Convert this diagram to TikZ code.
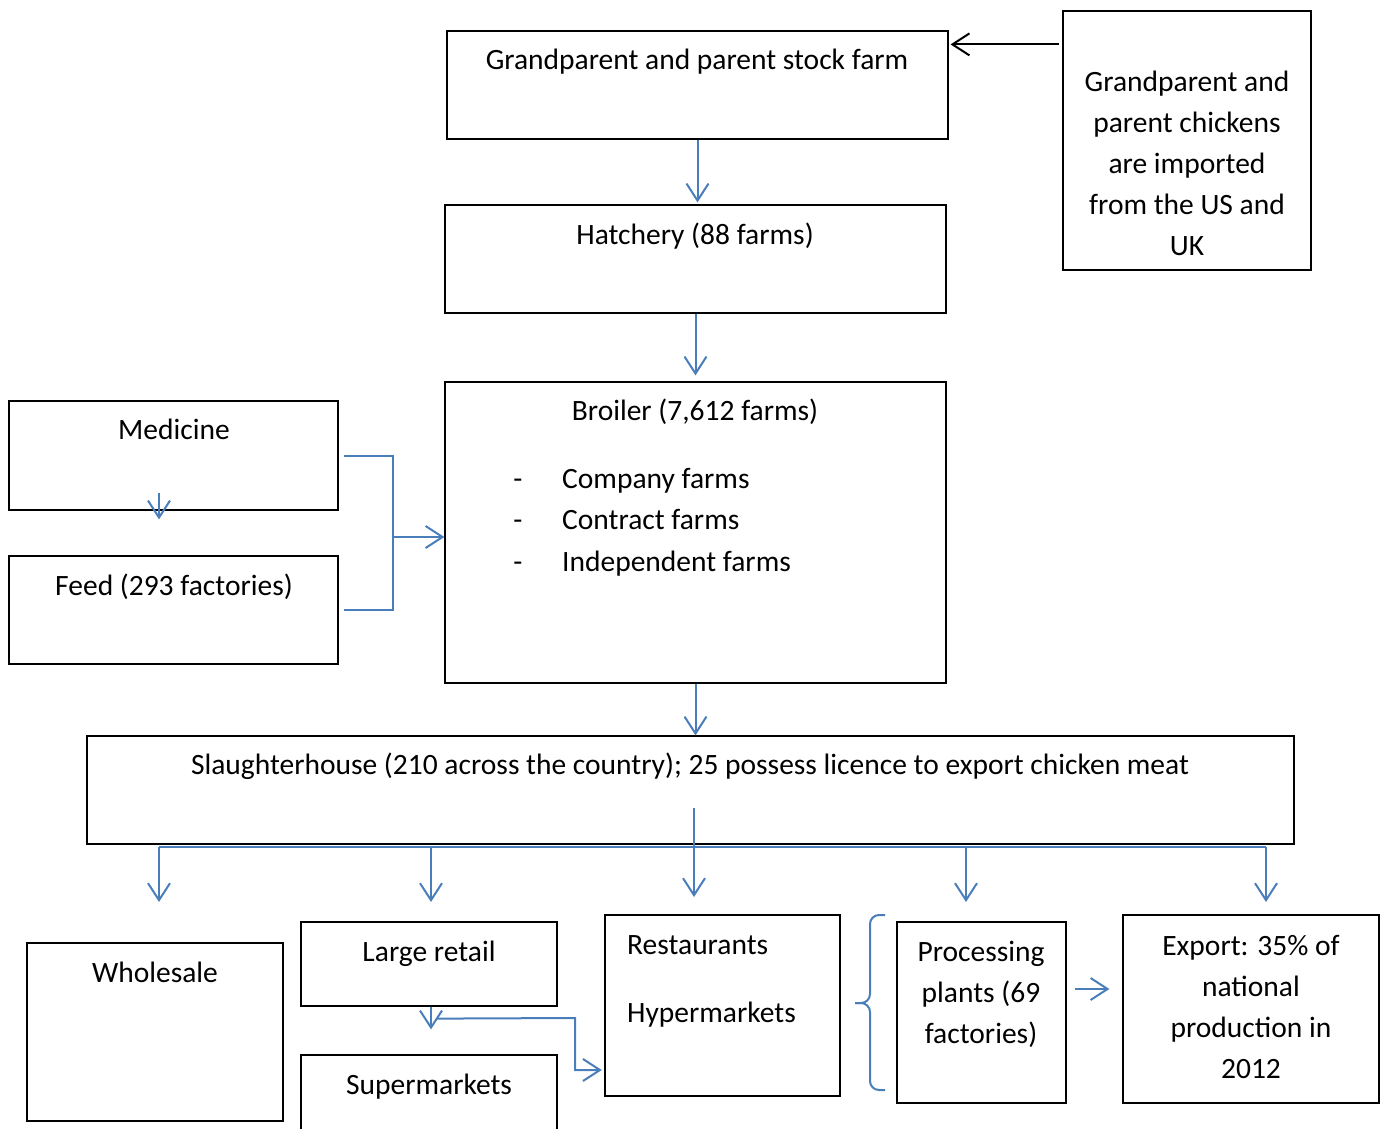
\documentclass[tikz,border=0pt]{standalone}
\usepackage{fontspec}
\setmainfont{Carlito}
\usetikzlibrary{arrows.meta}
\definecolor{linkblue}{RGB}{74,126,187}

\begin{document}
\begin{tikzpicture}
        [x=1pt, y=-1pt,
        box/.style={draw, rectangle, inner sep=0pt, line width=1.2pt},
        txt/.style={font=\fontsize{29.5}{41}\selectfont, inner sep=0pt, anchor=base},
        lines/.style={txt, align=center},
        link/.style={linkblue, line width=2pt, -{Straight Barb[length=17pt, width=22pt, line width=2pt]}},
        plain/.style={linkblue, line width=2pt},
        into/.style={black, line width=2pt, -{Straight Barb[length=17pt, width=22pt, line width=2pt]}}]

        \useasboundingbox (0,0) rectangle (1387,1128);
        \clip (0,0) rectangle (1387,1128);

        % boxes
        \node[box, minimum width=501, minimum height=108] (gp) at (697.5, 85) {};
        \node[box, line width=2.2pt, minimum width=248, minimum height=259] (imp) at (1187, 140.5) {};
        \node[box, minimum width=501, minimum height=108] (hat) at (695.5, 259) {};
        \node[box, minimum width=501, minimum height=301] (broiler) at (695.5, 532.5) {};
        \node[box, minimum width=329, minimum height=109] (med) at (173.5, 455.5) {};
        \node[box, minimum width=329, minimum height=108] (feed) at (173.5, 610) {};
        \node[box, minimum width=1207, minimum height=108] (slaughter) at (690.5, 790) {};
        \node[box, minimum width=256, minimum height=178] (whole) at (155, 1032) {};
        \node[box, minimum width=256, minimum height=84] (large) at (429, 964) {};
        \node[box, minimum width=256, minimum height=105] (super) at (429, 1107.5) {};
        \node[box, line width=2.4pt, minimum width=235, minimum height=181] (rest) at (722.5, 1005.5) {};
        \node[box, minimum width=169, minimum height=181] (proc) at (981.5, 1012.5) {};
        \node[box, minimum width=256, minimum height=188] (export) at (1251, 1009) {};

        % texts
        \node[txt] (gp-t) at (697, 69) {Grandparent and parent stock farm};
        \node[lines] (imp-t) at (1187, 255) {Grandparent and\\parent chickens\\are imported\\from the US and\\UK};
        \node[txt] (hat-t) at (695, 244) {Hatchery (88 farms)};
        \node[txt] (broiler-t) at (695, 420) {Broiler (7,612 farms)};
        \node[txt] (d1) at (518, 488) {-};
        \node[txt] (d2) at (518, 529) {-};
        \node[txt] (d3) at (518, 571) {-};
        \node[txt, anchor=base west] (l1) at (562, 488) {Company farms};
        \node[txt, anchor=base west] (l2) at (562, 529) {Contract farms};
        \node[txt, anchor=base west] (l3) at (562, 571) {Independent farms};
        \node[txt] (med-t) at (174, 439) {Medicine};
        \node[txt] (feed-t) at (174, 595) {Feed (293 factories)};
        \node[txt] (slaughter-t) at (690, 774) {Slaughterhouse (210 across the country); 25 possess licence to export chicken meat};
        \node[txt] (whole-t) at (155, 982) {Wholesale};
        \node[txt] (large-t) at (429, 961) {Large retail};
        \node[txt] (super-t) at (429, 1094) {Supermarkets};
        \node[txt, anchor=base west] (rest-t) at (627, 954) {Restaurants};
        \node[txt, anchor=base west] (hyper-t) at (627, 1022) {Hypermarkets};
        \node[lines] (proc-t) at (981, 1043) {Processing\\plants (69\\factories)};
        \node[lines] (export-t) at (1251, 1078) {Export: 35\% of\\national\\production in\\2012};

        % links
        \draw[into, shorten <=3pt, shorten >=2pt] ([yshift=-14pt]imp.west |- gp.north) -- ([yshift=-14pt]gp.north east);
        \draw[link, shorten >=2pt] (gp.south) -- (gp.south |- hat.north);
        \draw[link, shorten >=6pt] (hat.south) -- (hat.south |- broiler.north);
        \draw[link, shorten <=-18pt, shorten >=36pt] ([xshift=-14.5pt]med.south) -- ([xshift=-14.5pt]feed.north);

        \coordinate (mix) at (393, 537);
        \draw[plain] ([xshift=5pt]med.east) -| (mix) |- ([xshift=5pt]feed.east);
        \draw[link] (mix) -- (mix -| broiler.west);

        \draw[link] (broiler.south) -- (broiler.south |- slaughter.north);

        \coordinate (stem) at (694, 808);
        \coordinate (split) at (694, 847);
        \draw[plain] (159, 847) -- (1266, 847);
        \draw[plain] (stem) -- (split);
        \foreach \n/\x/\y in {whole/159/902, large/431/902, rest/694/897, proc/966/902, export/1266/902} {
          \coordinate (\n-in) at (\x, \y);
          \draw[link] (\n-in |- split) -- (\n-in);
        }

        \draw[link, shorten >=25pt] ([xshift=2pt]large.south) -- ([xshift=2pt]super.north);
        \coordinate (turn) at (575, 1018);
        \draw[link, shorten >=2pt] ([xshift=8pt, yshift=-12pt]large.south) -- (turn) |- ([yshift=-64.5pt]rest.west);

        % brace in front of the processing plants
        \coordinate (tip) at (855, 1003);
        \draw[plain, rounded corners=9pt] (885, 915) -| (870, 1003) -- (tip);
        \draw[plain, rounded corners=9pt] (tip) -- (870, 1003) |- (885, 1090);

        \draw[link, shorten <=8pt, shorten >=13pt] ([yshift=23.5pt]proc.east) -- ([yshift=23.5pt]proc.east -| export.west);

    \end{tikzpicture}
\end{document}
